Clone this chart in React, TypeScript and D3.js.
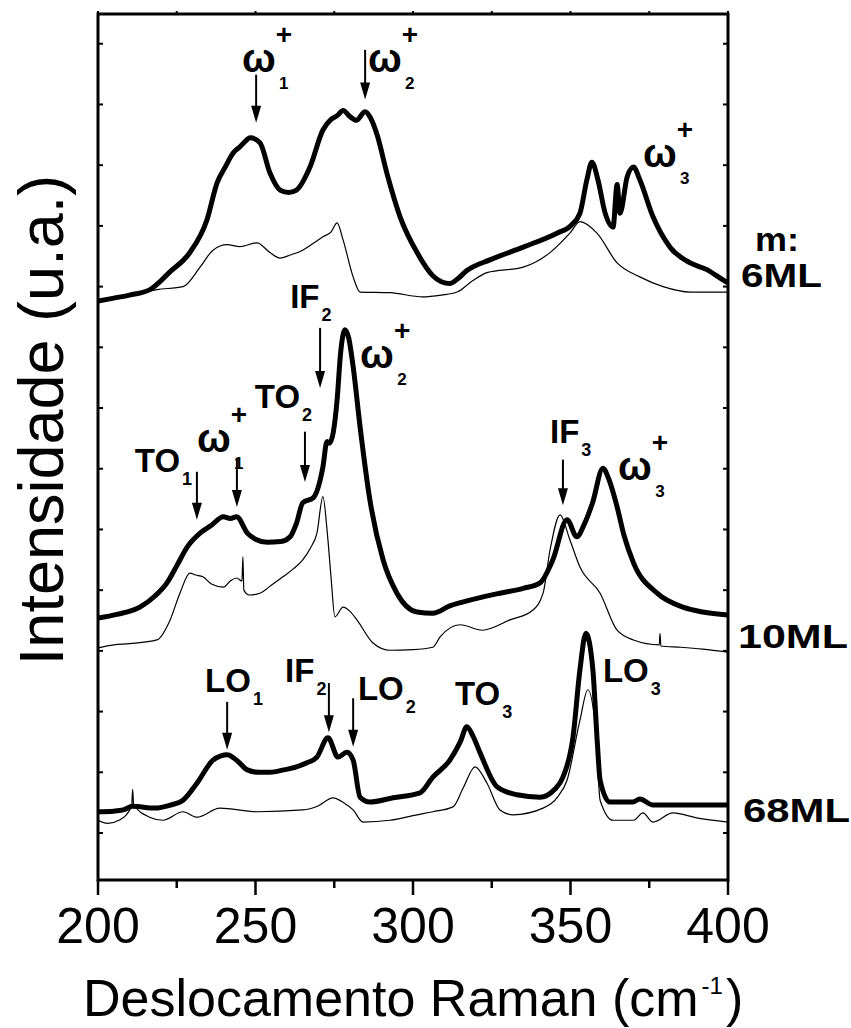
import React from 'react';
import * as d3 from 'd3';

// Raman spectra (cm^-1, arbitrary intensity with vertical offsets per sample)
const sixMLThick: [number, number][] = [
  [200, 8.76], [205, 8.81], [210, 8.86], [216.5, 8.95], [223, 9.25], [229, 9.55], [234.6, 10.1],
  [237.8, 10.71], [240.5, 10.98], [242.9, 11.2], [245, 11.3], [246.5, 11.38], [248.3, 11.45],
  [251.4, 11.37], [254.6, 10.87], [257.8, 10.59], [260.5, 10.55], [263, 10.59], [267.3, 10.97],
  [271.4, 11.58], [273.7, 11.74], [276, 11.82], [277.8, 11.9], [280, 11.8], [282, 11.74],
  [284.8, 11.88], [286.5, 11.78], [288.6, 11.5], [291.7, 10.87], [295.9, 10.15], [301.3, 9.56],
  [306.3, 9.18], [309, 9.08], [311.7, 9.05], [314, 9.12], [317, 9.26], [324.4, 9.44], [335, 9.65],
  [345.7, 9.88], [350, 10.0], [353, 10.21], [355.2, 10.76], [356.8, 11.05], [358.7, 10.76],
  [361, 10.21], [363.5, 9.98], [364.8, 10.68], [365.7, 10.21], [368, 10.81], [370, 10.97],
  [372, 10.76], [376.2, 10.15], [381.6, 9.65], [388, 9.39], [393.3, 9.28], [398.4, 9.11], [400, 9.06],
];

const sixMLThin: [number, number][] = [
  [200, 8.75], [210, 8.86], [218.7, 8.95], [227, 9.0], [232.4, 9.32], [236.5, 9.6], [241, 9.69],
  [245, 9.66], [250.5, 9.72], [254.6, 9.56], [257.8, 9.47], [261, 9.52], [265, 9.6], [268, 9.7],
  [271.4, 9.82], [274, 9.9], [275.9, 10.05], [277.8, 9.77], [281, 9.16], [283.2, 8.91], [292.7, 8.9],
  [303, 8.83], [309, 8.86], [314, 8.91], [319, 9.1], [323.5, 9.23], [335, 9.32], [343.5, 9.56],
  [349.8, 9.88], [353, 10.07], [358.4, 9.88], [364.8, 9.39], [372, 9.16], [379.4, 9.0], [388, 8.91],
  [400, 8.91],
];

const tenMLThick: [number, number][] = [
  [200, 3.54], [206, 3.6], [213.3, 3.72], [218, 3.9], [221.9, 4.12], [225, 4.4], [228.3, 4.71],
  [232.4, 4.94], [236, 5.07], [239.8, 5.21], [242, 5.18], [244, 5.21], [247.4, 4.94], [250, 4.84],
  [253.7, 4.79], [258, 4.8], [261, 4.88], [263, 5.1], [265, 5.44], [268.3, 5.52], [271.4, 6.03],
  [272.7, 6.45], [273.5, 6.42], [275.9, 7.13], [277, 7.9], [278.4, 8.29], [279.6, 8.15], [281, 7.68],
  [283.2, 6.69], [286.3, 5.49], [290.5, 4.5], [294.9, 3.95], [301.3, 3.64], [306.3, 3.62],
  [311.7, 3.74], [320, 3.86], [327.6, 3.95], [335, 4.03], [340.3, 4.12], [344.4, 4.5], [348.9, 5.16],
  [352, 4.88], [354.5, 5.1], [357, 5.44], [360.3, 6.01], [362, 5.85], [364.8, 5.37], [367, 4.9],
  [370, 4.45], [377.5, 3.95], [385.7, 3.72], [392, 3.64], [400, 3.59],
];

const tenMLThin: [number, number][] = [
  [200, 3.05], [205, 3.1], [210, 3.12], [218.7, 3.18], [222.9, 3.51], [226, 3.95], [229.2, 4.28],
  [231, 4.25], [233.3, 4.22], [236, 4.1], [239.8, 4.05], [242, 4.15], [244, 4.2], [245.7, 4.15],
  [246, 4.55], [246.3, 4.0], [248, 3.92], [251.4, 3.95], [255, 4.08], [258.7, 4.22], [262, 4.35],
  [265, 4.5], [267.5, 4.7], [269.5, 4.94], [271.4, 5.54], [272.8, 4.94], [274, 4.2], [275.2, 3.56],
  [277.8, 3.72], [280, 3.65], [282.2, 3.51], [287.3, 3.13], [292.7, 3.01], [300, 3.02],
  [306.3, 3.06], [308.6, 3.23], [315, 3.43], [322, 3.34], [330.8, 3.51], [338, 3.67], [341.3, 3.95],
  [343.5, 4.66], [346.7, 5.24], [349.8, 4.83], [353, 4.38], [359.4, 3.95], [364.8, 3.34],
  [370, 3.18], [378.2, 3.1], [378.4, 3.29], [378.7, 3.08], [385, 3.06], [392, 3.03], [400, 2.98],
];

const sixtyEightMLThick: [number, number][] = [
  [200, 0.35], [205, 0.36], [208, 0.38], [211, 0.44], [218, 0.41],
  [223, 0.46], [227, 0.54], [231.4, 0.82], [236.5, 1.2], [239, 1.27], [241, 1.29], [244, 1.2],
  [247.4, 1.04], [251, 1.0], [254.6, 1.0], [259, 1.04], [263, 1.09], [266.5, 1.16], [269.5, 1.25],
  [273, 1.57], [276.2, 1.25], [279, 1.33], [281, 1.2], [283.2, 0.59], [286.3, 0.51], [293.7, 0.58],
  [302.2, 0.66], [306.3, 0.92], [311.7, 1.2], [315, 1.5], [317.1, 1.75], [319, 1.6], [321.3, 1.32],
  [326.7, 0.76], [333, 0.63], [340.3, 0.59], [345, 0.72], [347.6, 0.92], [350.8, 1.58], [353, 2.69],
  [354.9, 3.29], [357.1, 2.69], [358.5, 1.5], [359.4, 0.87], [362.5, 0.51], [369.8, 0.51],
  [372, 0.56], [376.2, 0.46], [390, 0.46], [400, 0.46],
];

const sixtyEightMLThin: [number, number][] = [
  [200, 0.21], [203, 0.16], [207, 0.22], [210.7, 0.45], [211, 0.72], [211.3, 0.47], [216.4, 0.26],
  [220.6, 0.21], [227, 0.35], [231.4, 0.26], [238.7, 0.41], [250.5, 0.35], [265, 0.38], [270, 0.45],
  [274.6, 0.58], [278, 0.5], [281, 0.38], [284.1, 0.18], [292.7, 0.21], [301.3, 0.3], [306.3, 0.35],
  [312.7, 0.43], [316, 0.75], [319.7, 1.09], [323.5, 0.82], [327.6, 0.38], [331.7, 0.3], [341.3, 0.41],
  [346, 0.6], [348.9, 0.87], [353, 1.86], [355.5, 2.36], [358, 1.7], [359.4, 0.54], [363.5, 0.21],
  [370, 0.21], [373, 0.33], [376.2, 0.18], [382.5, 0.33], [390, 0.25], [400, 0.18],
];

const xMajorTicks = [200, 250, 300, 350, 400];
const xMinorTicks = [225, 275, 325, 375];
const yTicks = [0, 1, 2, 3, 4, 5, 6, 7, 8, 9, 10, 11, 12, 13];

// mode labels: kind 'w' = omega with superscript "+" and subscript index
const modeLabels = [
  { kind: 'w', sub: '1', x: 245.7, y: 12.54 },
  { kind: 'w', sub: '2', x: 285.7, y: 12.54 },
  { kind: 'w', sub: '3', x: 373.0, y: 10.97 },
  { kind: 't', text: 'IF', sub: '2', x: 261.0, y: 8.65 },
  { kind: 'w', sub: '2', x: 283.2, y: 7.66 },
  { kind: 't', text: 'TO', sub: '2', x: 249.8, y: 7.0 },
  { kind: 't', text: 'TO', sub: '1', x: 211.7, y: 5.95 },
  { kind: 'w', sub: '1', x: 231.4, y: 6.28 },
  { kind: 't', text: 'IF', sub: '3', x: 343.5, y: 6.43 },
  { kind: 'w', sub: '3', x: 365.1, y: 5.82 },
  { kind: 't', text: 'LO', sub: '1', x: 234.0, y: 2.32 },
  { kind: 't', text: 'IF', sub: '2', x: 259.4, y: 2.49 },
  { kind: 't', text: 'LO', sub: '2', x: 282.5, y: 2.19 },
  { kind: 't', text: 'TO', sub: '3', x: 313.3, y: 2.11 },
  { kind: 't', text: 'LO', sub: '3', x: 360.3, y: 2.49 },
];

// arrows: x position, start and tip intensity
const arrows = [
  { x: 250.2, from: 12.49, to: 11.7 },
  { x: 284.8, from: 12.9, to: 12.08 },
  { x: 270.5, from: 8.32, to: 7.33 },
  { x: 265.7, from: 6.61, to: 5.78 },
  { x: 231.4, from: 5.95, to: 5.16 },
  { x: 244.1, from: 6.18, to: 5.37 },
  { x: 347.6, from: 6.15, to: 5.4 },
  { x: 241.0, from: 2.16, to: 1.37 },
  { x: 273.3, from: 2.47, to: 1.66 },
  { x: 281.0, from: 2.22, to: 1.42 },
];

const sampleLabels = [
  { text: 'm:', y: 9.58, dx: 27, len: 44 },
  { text: '6ML', y: 9.0, dx: 13, len: 81 },
  { text: '10ML', y: 3.05, dx: 10, len: 110 },
  { text: '68ML', y: 0.18, dx: 15, len: 107 },
];

const W = 851;
const H = 1028;
const plot = { left: 98, right: 728, top: 14, bottom: 880 };
const FONT = "'Liberation Sans', Arial, Helvetica, sans-serif";

export default function App() {
  const x = d3.scaleLinear().domain([200, 400]).range([plot.left, plot.right]);
  const y = d3.scaleLinear().domain([-0.774, 13.49]).range([plot.bottom, plot.top]);
  const line = d3
    .line<[number, number]>()
    .x((d) => x(d[0]))
    .y((d) => y(d[1]))
    .curve(d3.curveMonotoneX);

  const thin = [sixMLThin, tenMLThin, sixtyEightMLThin];
  const thick = [sixMLThick, tenMLThick, sixtyEightMLThick];

  return (
    <svg
      width={W}
      height={H}
      style={{ position: 'absolute', left: 0, top: 0, background: '#fff' }}
      fontFamily={FONT}
    >
      <rect x={0} y={0} width={W} height={H} fill="#fff" />
      <defs>
        <clipPath id="plotClip">
          <rect x={plot.left} y={plot.top} width={plot.right - plot.left} height={plot.bottom - plot.top} />
        </clipPath>
      </defs>

      <g clipPath="url(#plotClip)">
        {thin.map((s, i) => (
          <path key={'thin' + i} d={line(s) || ''} fill="none" stroke="#000" strokeWidth={1.2} strokeLinejoin="round" />
        ))}
        {thick.map((s, i) => (
          <path key={'thick' + i} d={line(s) || ''} fill="none" stroke="#000" strokeWidth={5} strokeLinejoin="round" strokeLinecap="round" />
        ))}
      </g>

      {/* frame */}
      <rect
        x={plot.left}
        y={plot.top}
        width={plot.right - plot.left}
        height={plot.bottom - plot.top}
        fill="none"
        stroke="#000"
        strokeWidth={3}
      />

      {/* x ticks */}
      {xMajorTicks.map((t) => (
        <g key={'xM' + t}>
          <line x1={x(t)} x2={x(t)} y1={plot.bottom} y2={plot.bottom + 15} stroke="#000" strokeWidth={2.5} />
          <line x1={x(t)} x2={x(t)} y1={plot.top} y2={plot.top - 3} stroke="#000" strokeWidth={2} />
          <text x={x(t)} y={943} fontSize={50} textAnchor="middle">
            {t}
          </text>
        </g>
      ))}
      {xMinorTicks.map((t) => (
        <g key={'xm' + t}>
          <line x1={x(t)} x2={x(t)} y1={plot.bottom} y2={plot.bottom + 8} stroke="#000" strokeWidth={2.5} />
          <line x1={x(t)} x2={x(t)} y1={plot.top} y2={plot.top - 3} stroke="#000" strokeWidth={2} />
        </g>
      ))}

      {/* y ticks (no labels) */}
      {yTicks.map((t) => (
        <g key={'y' + t}>
          <line x1={plot.left} x2={plot.left + 5} y1={y(t)} y2={y(t)} stroke="#000" strokeWidth={2} />
          <line x1={plot.right} x2={plot.right - 5} y1={y(t)} y2={y(t)} stroke="#000" strokeWidth={2} />
        </g>
      ))}

      {/* arrows */}
      {arrows.map((a, i) => {
        const ax = x(a.x);
        const y0 = y(a.from);
        const y1 = y(a.to);
        const head = 17;
        return (
          <g key={'a' + i}>
            <line x1={ax} x2={ax} y1={y0} y2={y1 - head + 2} stroke="#000" strokeWidth={2} />
            <path d={`M${ax - 5},${y1 - head} L${ax + 5},${y1 - head} L${ax},${y1} Z`} fill="#000" />
          </g>
        );
      })}

      {/* mode labels */}
      {modeLabels.map((m, i) =>
        m.kind === 'w' ? (
          <text key={'m' + i} x={x(m.x)} y={y(m.y)} fontWeight="bold">
            <tspan fontSize={40}>ω</tspan>
            <tspan fontSize={28} dy={-28}>+</tspan>
            <tspan fontSize={17} dx={-13} dy={45}>
              {m.sub}
            </tspan>
          </text>
        ) : (
          <text key={'m' + i} x={x(m.x)} y={y(m.y)} fontWeight="bold" fontSize={33}>
            {m.text}
            <tspan fontSize={18} dx={2} dy={13}>
              {m.sub}
            </tspan>
          </text>
        )
      )}

      {/* sample labels */}
      {sampleLabels.map((s) => (
        <text
          key={s.text}
          x={plot.right + s.dx}
          y={y(s.y)}
          fontWeight="bold"
          fontSize={34}
          textLength={s.len}
          lengthAdjust="spacingAndGlyphs"
        >
          {s.text}
        </text>
      ))}

      {/* axis titles */}
      <text x={83} y={1016} fontSize={52}>
        Deslocamento Raman (cm
        <tspan fontSize={24} dx={3} dy={-22}>
          -1
        </tspan>
        <tspan dx={3} dy={22}>
          )
        </tspan>
      </text>
      <text transform="translate(63,420) rotate(-90)" fontSize={63} textAnchor="middle">
        Intensidade (u.a.)
      </text>
    </svg>
  );
}
